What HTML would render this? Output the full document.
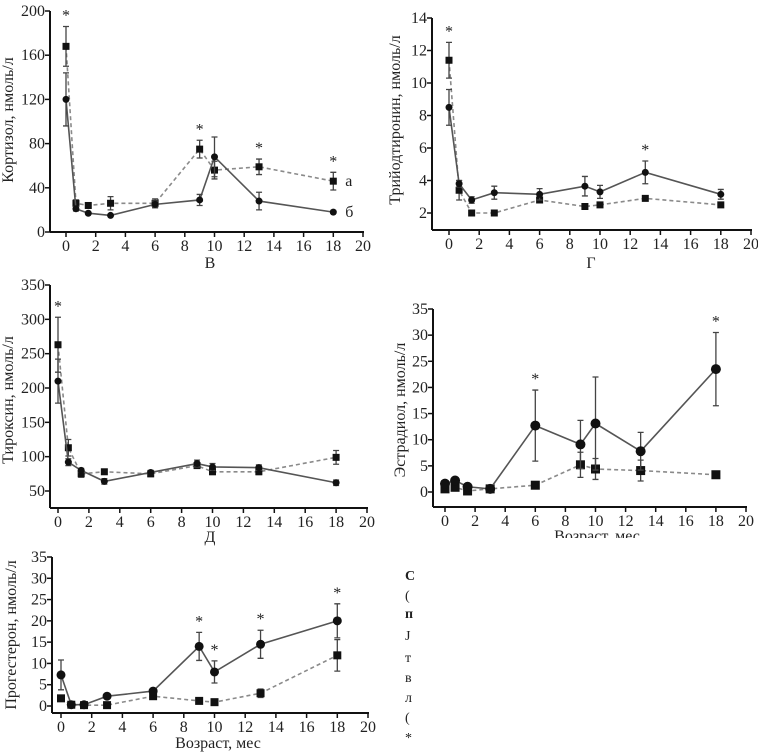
<!DOCTYPE html>
<html><head><meta charset="utf-8">
<style>
body{margin:0;background:#fff;width:758px;height:756px;overflow:hidden;font-family:"Liberation Serif","DejaVu Serif",serif}
svg{position:absolute;left:0;top:0}
text{font-family:"Liberation Serif","DejaVu Serif",serif;fill:#222}
</style></head>
<body>
<svg id="fig" width="758" height="756" viewBox="0 0 758 756"></svg>
<script>
const ages=[0,0.67,1.5,3,6,9,10,13,18];
const xTicks=[0,2,4,6,8,10,12,14,16,18,20];
// Cortisol
const cortA=[168,26,24,26,26,75,56,59,46];
const cortAErr=[18,3,2,6,4,8,8,7,8];
const cortB=[120,21,17,15,25,29,68,28,18];
const cortBErr=[24,2,1,1,3,5,18,8,1];
const cortTicks=[0,40,80,120,160,200];
const cortStars=[0,9,13,18];
// T3
const t3Sq=[11.4,3.4,2.0,2.0,2.8,2.4,2.5,2.9,2.5];
const t3SqErr=[1.1,0.6,0,0,0,0,0,0,0];
const t3Ci=[8.5,3.8,2.8,3.25,3.15,3.65,3.3,4.5,3.15];
const t3CiErr=[1.1,0.2,0.2,0.4,0.35,0.6,0.4,0.7,0.3];
const t3Ticks=[2,4,6,8,10,12,14];
const t3Stars=[0,13];
// T4
const t4Sq=[263,113,75,78,75,87,78,78,99];
const t4SqErr=[40,12,5,3,4,4,4,4,10];
const t4Ci=[210,92,80,64,77,90,85,84,62];
const t4CiErr=[32,5,3,4,3,5,5,4,4];
const t4Ticks=[50,100,150,200,250,300,350];
const t4Stars=[0];
// Estradiol
const e2Ci=[1.6,2.2,1.0,0.6,12.7,9.1,13.1,7.8,23.5];
const e2CiErr=[0,0,0,0,6.8,4.6,8.9,3.6,7.0];
const e2Sq=[0.6,0.9,0.2,0.6,1.3,5.2,4.4,4.1,3.3];
const e2SqErr=[0,0,0,0,0,2.4,2.0,2.0,0];
const e2Ticks=[0,5,10,15,20,25,30,35];
const e2Stars=[6,18];
// Progesterone
const prCi=[7.3,0.3,0.3,2.3,3.5,14,8,14.5,20];
const prCiErr=[3.5,0,0,0,0,3.3,2.6,3.3,4];
const prSq=[1.8,0.3,0.2,0.2,2.3,1.2,0.9,3,11.9];
const prSqErr=[0,0,0,0,0,0,0,1,3.7];
const prTicks=[0,5,10,15,20,25,30,35];
const prStars=[9,10,13,18];

const NS="http://www.w3.org/2000/svg";
const svg=document.getElementById('fig');
function mk(tag,attrs,parent,txt){const e=document.createElementNS(NS,tag);for(const k in attrs)e.setAttribute(k,attrs[k]);if(txt!==undefined)e.textContent=txt;(parent||svg).appendChild(e);return e;}

function panel(cfg){
  const g=mk('g',{});
  
  
  const xs=v=>cfg.x0+(cfg.x20-cfg.x0)*v/20;
  const ys=v=>cfg.yA+(cfg.yB-cfg.yA)*(v-cfg.vA)/(cfg.vB-cfg.vA);
  const yTop=ys(cfg.yTicks[cfg.yTicks.length-1]);
  const ya=mk('line',{x1:cfg.ax,y1:yTop,x2:cfg.ax,y2:cfg.bottom,stroke:'#111','stroke-width':2},g);
  
  const xa=mk('line',{x1:cfg.ax,y1:cfg.bottom,x2:xs(20)+1,y2:cfg.bottom,stroke:'#111','stroke-width':2},g);
  
  xTicks.forEach(t=>{
    mk('line',{x1:xs(t),y1:cfg.bottom,x2:xs(t),y2:cfg.bottom+5,stroke:'#111','stroke-width':1.5},g);
    const l=mk('text',{x:xs(t),y:cfg.bottom+19,'text-anchor':'middle','font-size':16},g,String(t));
    
  });
  cfg.yTicks.forEach(t=>{
    mk('line',{x1:cfg.ax-5,y1:ys(t),x2:cfg.ax,y2:ys(t),stroke:'#111','stroke-width':1.5},g);
    const l=mk('text',{x:cfg.ax-5,y:ys(t)+5,'text-anchor':'end','font-size':16},g,String(t));
    
  });
  const yl=mk('text',{x:0,y:0,'text-anchor':'middle','font-size':16,transform:`translate(${cfg.ylx},${cfg.yly}) rotate(-90)`},g,cfg.ylabel);
  
  const xl=mk('text',{x:cfg.xlx,y:cfg.xly,'text-anchor':'middle','font-size':16},g,cfg.xlabel);
  
  function series(vals,errs,shape,name){
    const pts=vals.map((v,i)=>xs(ages[i])+','+ys(v)).join(' ');
    const pl=mk('polyline',{points:pts,fill:'none',stroke:shape==='sq'?'#8a8a8a':'#555','stroke-width':1.6,'stroke-dasharray':shape==='sq'?'4,3':'none'},g);
    
    vals.forEach((v,i)=>{
      const x=xs(ages[i]),y=ys(v),e=errs[i];
      if(e>0){
        const eb=mk('path',{d:`M${x},${ys(v+e)}V${ys(v-e)}M${x-3},${ys(v+e)}H${x+3}M${x-3},${ys(v-e)}H${x+3}`,stroke:'#444','stroke-width':1.3,fill:'none'},g);
        
      }
      let m;
      if(shape==='sq'){const s=cfg.sq;m=mk('rect',{x:x-s/2,y:y-s/2,width:s,height:s,fill:'#111'},g);}
      else m=mk('circle',{cx:x,cy:y,r:cfg.r,fill:'#111'},g);
      
    });
  }
  series(cfg.sqV,cfg.sqE,'sq','squares-series');
  series(cfg.ciV,cfg.ciE,'ci','circles-series');
  cfg.stars.forEach(a=>{
    const i=ages.indexOf(a);
    const top=Math.max(cfg.sqV[i]+cfg.sqE[i],cfg.ciV[i]+cfg.ciE[i]);
    const s=mk('text',{x:xs(a),y:ys(top)-6,'text-anchor':'middle','font-size':16},g,'*');
    
  });
  return {xs,ys,g};
}

const p1=panel({name:'cortisol-panel',ax:50,x0:66,x20:363,vA:0,yA:232,vB:200,yB:11,bottom:232,yTicks:cortTicks,
  sqV:cortA,sqE:cortAErr,ciV:cortB,ciE:cortBErr,stars:cortStars,sq:7,r:3.5,
  ylabel:'Кортизол, нмоль/л',ylx:13,yly:120,xlabel:'В',xlx:210,xly:268});
let t=mk('text',{x:p1.xs(18)+12,y:p1.ys(46)+5,'font-size':16},p1.g,'а');

t=mk('text',{x:p1.xs(18)+12,y:p1.ys(18)+5,'font-size':16},p1.g,'б');


panel({name:'triiodothyronine-panel',ax:432,x0:449,x20:751,vA:2,yA:213,vB:14,yB:18,bottom:230,yTicks:t3Ticks,
  sqV:t3Sq,sqE:t3SqErr,ciV:t3Ci,ciE:t3CiErr,stars:t3Stars,sq:7,r:3.5,
  ylabel:'Трийодтиронин, нмоль/л',ylx:400,yly:120,xlabel:'Г',xlx:591,xly:268});

panel({name:'thyroxine-panel',ax:50,x0:58,x20:367,vA:50,yA:491,vB:350,yB:285,bottom:508,yTicks:t4Ticks,
  sqV:t4Sq,sqE:t4SqErr,ciV:t4Ci,ciE:t4CiErr,stars:t4Stars,sq:7,r:3.5,
  ylabel:'Тироксин, нмоль/л',ylx:13,yly:400,xlabel:'Д',xlx:210,xly:542});

panel({name:'estradiol-panel',ax:433,x0:445,x20:746,vA:0,yA:492,vB:35,yB:309,bottom:507,yTicks:e2Ticks,
  sqV:e2Sq,sqE:e2SqErr,ciV:e2Ci,ciE:e2CiErr,stars:e2Stars,sq:9,r:5,
  ylabel:'Эстрадиол, нмоль/л',ylx:405,yly:410,xlabel:'Возраст, мес',xlx:597,xly:541});
t=mk('rect',{x:380,y:538,width:378,height:218,fill:'#fff'});

const cutChars=['С','(','п','Ј','т','в','л','(','*'];
const cutY=[580,600,618,640,662,682,702,722,742];
cutChars.forEach((c,i)=>{
  const e=mk('text',{x:405,y:cutY[i],'font-size':14,'font-weight':i===0||i===2?'bold':'normal'},svg,c);
  
  
});

panel({name:'progesterone-panel',ax:52,x0:61,x20:368,vA:0,yA:706,vB:35,yB:557,bottom:713,yTicks:prTicks,
  sqV:prSq,sqE:prSqErr,ciV:prCi,ciE:prCiErr,stars:prStars,sq:8,r:4.5,
  ylabel:'Прогестерон, нмоль/л',ylx:16,yly:635,xlabel:'Возраст, мес',xlx:218,xly:748});
</script>
</body></html>
